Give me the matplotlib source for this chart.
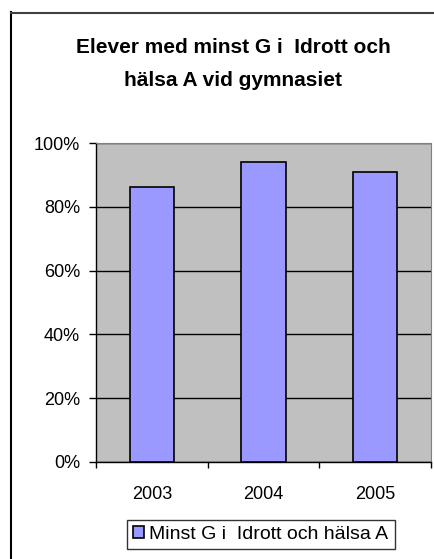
import matplotlib
matplotlib.use('Agg')
import matplotlib.pyplot as plt
from matplotlib.ticker import FuncFormatter
from matplotlib.lines import Line2D

years = ['2003', '2004', '2005']
values = [0.861, 0.941, 0.908]
series_name = 'Minst G i  Idrott och hälsa A'
title = 'Elever med minst G i  Idrott och\nhälsa A vid gymnasiet'

plt.rcParams['font.family'] = ['Liberation Sans', 'DejaVu Sans']

W, H = 435, 559
fig = plt.figure(figsize=(W / 100, H / 100), dpi=100)
ax = fig.add_axes([96 / W, 1 - 462 / H, 335 / W, 319 / H])

x = range(len(years))
ax.bar(x, values, width=0.4, color='#9999FF', edgecolor='black', linewidth=1.2,
       label=series_name, zorder=3)
ax.set_facecolor('#C0C0C0')
ax.set_xlim(-0.5, 2.5)
ax.set_ylim(0, 1)
ax.set_yticks([0, 0.2, 0.4, 0.6, 0.8, 1.0])
ax.yaxis.set_major_formatter(FuncFormatter(lambda v, p: '%d%%' % round(v * 100)))
ax.grid(axis='y', color='black', linewidth=1, zorder=1)

# category boundary ticks on x axis, labels centered
ax.set_xticks([-0.5, 0.5, 1.5, 2.5])
ax.set_xticklabels([])
ax.set_xticks(list(x), minor=True)
ax.set_xticklabels(years, minor=True, fontsize=13)
ax.tick_params(axis='x', which='minor', length=0, pad=17)
ax.tick_params(axis='x', which='major', direction='out', length=4, width=1)
ax.tick_params(axis='y', direction='out', length=5, width=1, labelsize=13, pad=6.5)

for s in ['top', 'right']:
    ax.spines[s].set_color('#808080')
for s in ['left', 'bottom']:
    ax.spines[s].set_color('black')
    ax.spines[s].set_linewidth(1)

fig.text(233 / W, 1 - 64 / H, title, ha='center', va='center', fontsize=15,
         fontweight='bold', linespacing=1.9)

leg = fig.legend(loc='lower left', bbox_to_anchor=(127 / W, 1 - 549 / H, 268 / W, 36 / H),
                 mode='expand', fontsize=14, frameon=True, fancybox=False,
                 handlelength=0.55, handleheight=0.55, handletextpad=0.3,
                 borderaxespad=0, borderpad=0.3)
leg.get_frame().set_edgecolor('black')
leg.get_frame().set_linewidth(1)

# outer chart border (only left and top visible)
fig.add_artist(Line2D([11 / W, 11 / W], [0, 1 - 12 / H], color='black', linewidth=1.5))
fig.add_artist(Line2D([11 / W, 1], [1 - 12.5 / H, 1 - 12.5 / H], color='#404040', linewidth=1.5))

fig.savefig('out.png', dpi=100)
